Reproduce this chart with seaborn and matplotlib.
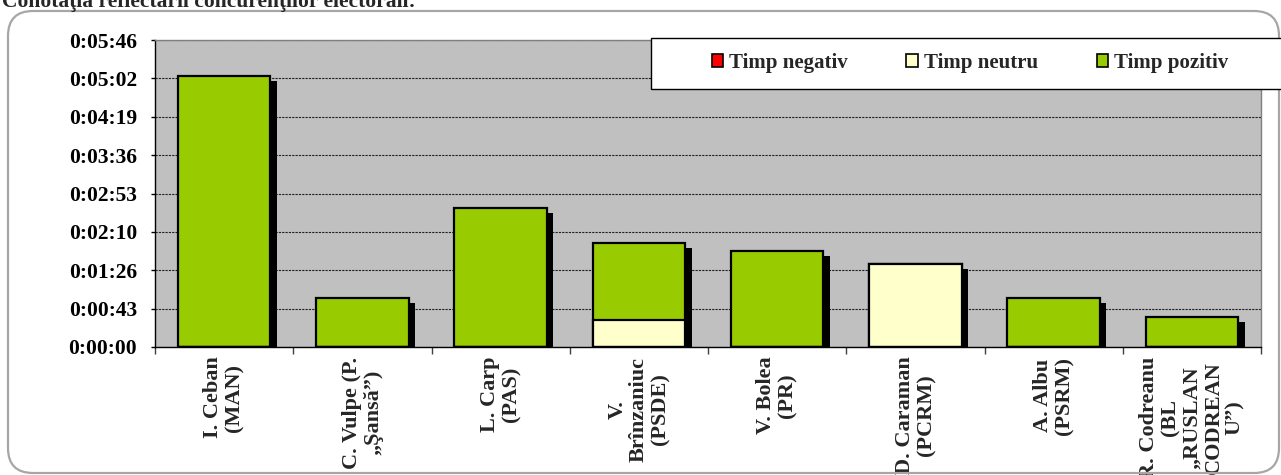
import matplotlib
matplotlib.use("Agg")
import matplotlib.pyplot as plt
import matplotlib.patheffects as pe
from matplotlib.patches import Patch, Rectangle, FancyBboxPatch
from matplotlib.ticker import FuncFormatter, MultipleLocator, FixedLocator
from matplotlib.transforms import IdentityTransform
import seaborn as sns

# candidati si timpul (secunde) pe tip de conotatie
candidati = [
    "I. Ceban\n(MAN)",
    "C. Vulpe (P.\n„Şansă”)",
    "L. Carp\n(PAS)",
    "V.\nBrînzaniuc\n(PSDE)",
    "V. Bolea\n(PR)",
    "D. Caraman\n(PCRM)",
    "A. Albu\n(PSRM)",
    "R. Codreanu\n(BL\n„RUSLAN\nCODREAN\nU”)",
]
timp_negativ = [0, 0, 0, 0, 0, 0, 0, 0]
timp_neutru = [0, 0, 0, 30, 0, 93, 0, 0]
timp_pozitiv = [305, 55, 156, 87, 108, 0, 55, 34]

serii = ["Timp negativ", "Timp neutru", "Timp pozitiv"]
culori = ["#FF0000", "#FFFFCC", "#99CC00"]

sns.set_theme(style="white")
plt.rcParams["font.family"] = ["Liberation Serif", "DejaVu Serif"]
plt.rcParams["font.weight"] = "bold"

W, H = 1281, 475
fig = plt.figure(figsize=(W / 100, H / 100), dpi=100)
ax = fig.add_axes([155 / W, 1 - 347 / H, (1261 - 155) / W, (347 - 40) / H])
ax.set_facecolor("#C0C0C0")

# stivuire: fiecare strat are inaltimea cumulata, desenat de sus in jos
cumul_neg = timp_negativ
cumul_neu = [a + b for a, b in zip(timp_negativ, timp_neutru)]
cumul_poz = [a + b for a, b in zip(cumul_neu, timp_pozitiv)]

umbra = [pe.SimplePatchShadow(offset=(4.6, -3.6), shadow_rgbFace="black", alpha=1.0),
         pe.Normal()]

for valori, culoare in [(cumul_poz, culori[2]), (cumul_neu, culori[1]), (cumul_neg, culori[0])]:
    n_inainte = len(ax.patches)
    sns.barplot(x=candidati, y=valori, color=culoare, saturation=1, width=0.67,
                edgecolor="black", linewidth=1.6, errorbar=None, ax=ax)
    for p in ax.patches[n_inainte:]:
        if p.get_height() > 0:
            p.set_path_effects(umbra)

ax.set_xlim(-0.5, len(candidati) - 0.5)
ax.set_ylim(0, 345.6)
ax.yaxis.set_major_locator(MultipleLocator(43.2))


def hms(v, pos):
    s = int(round(v))
    return f"{s // 3600}:{(s % 3600) // 60:02d}:{s % 60:02d}"


ax.yaxis.set_major_formatter(FuncFormatter(hms))
ax.grid(axis="y", color="#202020", linestyle=(0, (2, 1)), linewidth=0.8)
ax.grid(axis="x", visible=False)
ax.set_axisbelow(True)

for sp in ax.spines.values():
    sp.set_color("#808080")
    sp.set_linewidth(1.0)
ax.spines["left"].set_color("black")
ax.spines["bottom"].set_color("black")

ax.tick_params(axis="y", which="major", left=True, length=3, width=1, pad=10,
               labelsize=15.5, colors="black")
ax.xaxis.set_minor_locator(FixedLocator([i - 0.5 for i in range(len(candidati) + 1)]))
ax.tick_params(axis="x", which="minor", bottom=True, length=5, width=1, color="#404040")
ax.tick_params(axis="x", which="major", bottom=False, length=0, pad=7, labelsize=16)
for lbl in ax.get_xticklabels():
    lbl.set_rotation(90)
    lbl.set_ha("center")
    lbl.set_va("top")
    lbl.set_multialignment("center")
    lbl.set_linespacing(1.1)
for lbl in ax.get_yticklabels() + ax.get_xticklabels():
    lbl.set_fontweight("bold")
ax.set_xlabel("")
ax.set_ylabel("")

# cadru legenda
fig.add_artist(Rectangle((651 / W, 1 - 89 / H), (1295 - 651) / W, (89 - 38) / H,
                         transform=fig.transFigure, facecolor="white",
                         edgecolor="black", linewidth=1.0, zorder=3))
handles = [Patch(facecolor=c, edgecolor="black", linewidth=1.2) for c in culori]
fig.legend(handles, serii, loc="center", bbox_to_anchor=(970 / W, 1 - 63 / H),
           ncol=3, frameon=False, handlelength=0.55, handleheight=0.55,
           handletextpad=0.3, columnspacing=2.8, prop={"weight": "bold", "size": 15})

# chenar rotunjit
fig.add_artist(FancyBboxPatch((8, 2), 1271, 462, boxstyle="round,pad=0,rounding_size=25",
                              transform=IdentityTransform(), facecolor="none",
                              edgecolor="#A6A6A6", linewidth=1.6, zorder=2))

fig.text(2 / W, 1 - 7 / H, "Conotaţia reflectării concurenţilor electorali:",
         fontsize=15.5, fontweight="bold", va="baseline", ha="left")

fig.savefig("out.png", dpi=100)
